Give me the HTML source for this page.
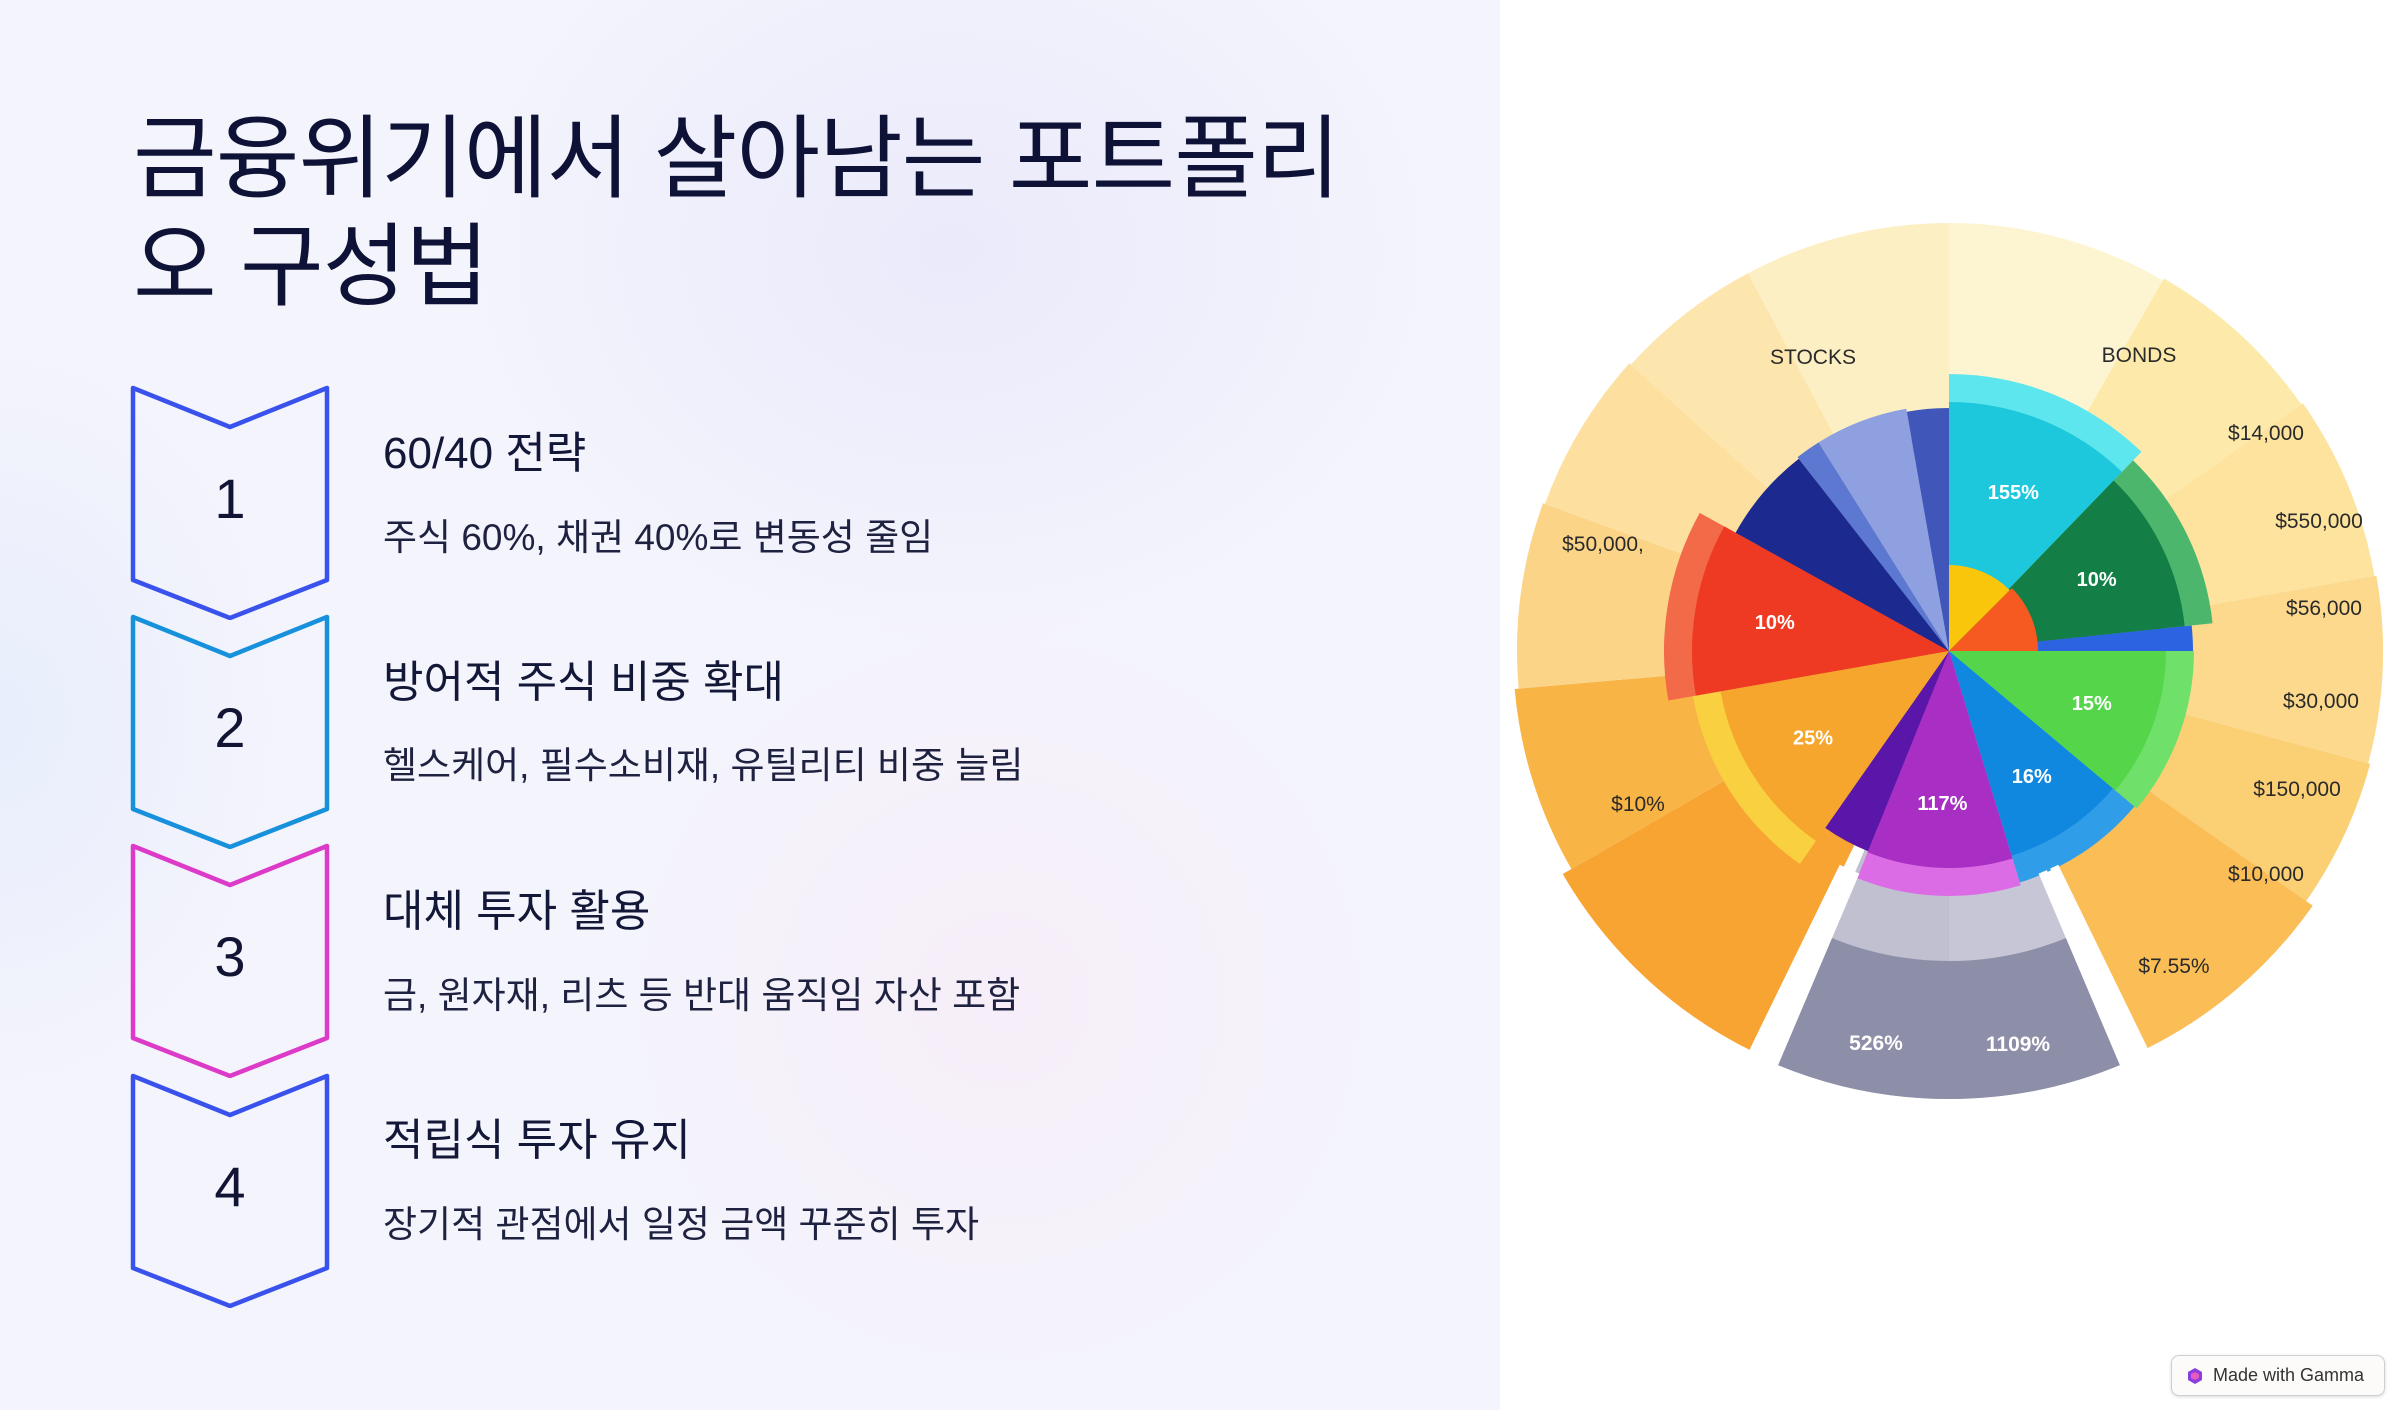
<!DOCTYPE html>
<html><head><meta charset="utf-8">
<style>
*{margin:0;padding:0;box-sizing:border-box}
body{width:2400px;height:1410px;overflow:hidden;font-family:"Liberation Sans","Noto Sans CJK KR",sans-serif;background:#fff;position:relative}
#left{position:absolute;left:0;top:0;width:1500px;height:1410px;background:radial-gradient(ellipse 500px 400px at 950px 250px,#eaeafb,rgba(240,240,252,0) 100%),radial-gradient(ellipse 400px 400px at 1000px 1000px,#f6eef8,rgba(245,245,252,0) 100%),radial-gradient(ellipse 300px 400px at 0px 720px,#e8eefc,rgba(245,245,252,0) 100%),#f4f4fc}
h1{position:absolute;left:133px;top:106px;width:1250px;font-size:91px;line-height:108px;font-weight:400;color:#0e1236;letter-spacing:-1px}
.chev{position:absolute;left:130px;width:200px;height:235px}
.num{position:absolute;left:130px;width:200px;text-align:center;font-size:56px;color:#111533}
.hd{position:absolute;left:383px;font-size:44px;color:#141838}
.sub{position:absolute;left:383px;font-size:37px;color:#1e2240}
#right{position:absolute;left:1500px;top:0;width:900px;height:1410px;background:#fff}
#badge{position:absolute;left:2171px;top:1355px;width:214px;height:41px;border:1.5px solid #cfcfcf;border-radius:8px;background:#fcfbfa;font-size:18px;color:#333;display:flex;align-items:center;padding-left:14px;gap:9px;box-shadow:0 1px 3px rgba(0,0,0,.15)}
</style></head><body>
<div id="left"></div>
<h1>금융위기에서 살아남는 포트폴리오 구성법</h1>

<svg class="chev" style="top:385px" viewBox="0 0 200 235"><path d="M3,3 L100,42 L197,3 L197,195 L100,233 L3,195 Z" fill="none" stroke="#3a52ec" stroke-width="4.5" stroke-linejoin="round"/></svg>
<svg class="chev" style="top:614px" viewBox="0 0 200 235"><path d="M3,3 L100,42 L197,3 L197,195 L100,233 L3,195 Z" fill="none" stroke="#1791dc" stroke-width="4.5" stroke-linejoin="round"/></svg>
<svg class="chev" style="top:843px" viewBox="0 0 200 235"><path d="M3,3 L100,42 L197,3 L197,195 L100,233 L3,195 Z" fill="none" stroke="#dc3ac8" stroke-width="4.5" stroke-linejoin="round"/></svg>
<svg class="chev" style="top:1073px" viewBox="0 0 200 235"><path d="M3,3 L100,42 L197,3 L197,195 L100,233 L3,195 Z" fill="none" stroke="#3a52ec" stroke-width="4.5" stroke-linejoin="round"/></svg>

<div class="num" style="top:466px">1</div>
<div class="num" style="top:695px">2</div>
<div class="num" style="top:924px">3</div>
<div class="num" style="top:1154px">4</div>

<div class="hd" style="top:417px">60/40 전략</div>
<div class="sub" style="top:507px">주식 60%, 채권 40%로 변동성 줄임</div>
<div class="hd" style="top:646px">방어적 주식 비중 확대</div>
<div class="sub" style="top:735px">헬스케어, 필수소비재, 유틸리티 비중 늘림</div>
<div class="hd" style="top:875px">대체 투자 활용</div>
<div class="sub" style="top:965px">금, 원자재, 리츠 등 반대 움직임 자산 포함</div>
<div class="hd" style="top:1104px">적립식 투자 유지</div>
<div class="sub" style="top:1194px">장기적 관점에서 일정 금액 꾸준히 투자</div>

<div id="right"></div>
<svg id="chart" width="2400" height="1410" style="position:absolute;left:0;top:0"></svg>

<div id="badge"><svg width="18" height="18" viewBox="0 0 18 18"><path d="M9,1 L16,5 L16,13 L9,17 L2,13 L2,5 Z" fill="#8a3ee0"/><path d="M9,5 L13,7 L13,11 L9,13 L5,11 L5,7Z" fill="#e85ac0"/></svg>Made with Gamma</div>

<script>
// outer ring segments: start/end angle (deg clockwise from top), colour
const ringStart = [0, 30, 55, 80, 105, 125, 157, 180, 206, 240, 265, 290, 312, 332];
const ringEnd   = [30, 55, 80, 105, 125, 154, 180, 203, 240, 265, 290, 312, 332, 360];
const ringColor = ['#fdf5d2','#fde9aa','#fde39e','#fcd98c','#fbcf74','#fbbd55','#c6c6d6','#c0c0d0','#f8a432','#f9b446','#fbd487','#fde0a0','#fde6ae','#fdefc4'];
const ringOuter = [428, 430, 432, 434, 436, 444, 448, 448, 446, 436, 432, 430, 428, 428];
// pie slices
const pieStart = [0, 44, 84, 90, 130, 163, 202, 215, 260, 299, 322, 328, 350];
const pieEnd   = [44, 84, 90, 130, 163, 202, 215, 260, 299, 322, 328, 350, 360];
const pieRad   = [277, 265, 244, 245, 242, 245, 216, 260, 285, 244, 246, 246, 243];
const pieColor = ['#5ee6ee','#4cb66c','#2b63e0','#6fe06a','#2f9de8','#dc6ce6','#5a16a8','#f9d040','#f26a48','#1c2a90','#5c78d0','#8ea0e0','#4056b8'];
const pieInner = ['#1ec8dc','#137f46','#2b63e0','#55d64a','#1088e0','#a82ec4','#5a16a8','#f6a62c','#ee3a22','#1c2a90','#5c78d0','#8ea0e0','#4056b8'];
const pieLabel = ['155%','10%','','15%','16%','117%','','25%','10%','','','',''];
// centre wedges
const coreStart = [0, 45];
const coreEnd = [45, 90];
const coreRad = [86, 89];
const coreColor = ['#fac60c','#f65a20'];
// annotation labels
const annText = ['STOCKS','BONDS','$14,000','$550,000','$56,000','$30,000','$150,000','$10,000','$7.55%','$50,000,','$10%','526%','1109%'];
const annX = [1813,2139,2266,2319,2324,2321,2297,2266,2174,1603,1638,1876,2018];
const annY = [357,355,433,521,608,701,789,874,966,544,804,1043,1044];

const NS='http://www.w3.org/2000/svg';
const svg=document.getElementById('chart');
const cx=1949, cy=651;
function pt(a,r){const t=a*Math.PI/180;return [cx+r*Math.sin(t),cy-r*Math.cos(t)];}
function arc(a0,a1,r0,r1){
  const p0=pt(a0,r1),p1=pt(a1,r1),large=(a1-a0)>180?1:0;
  if(r0<=0)return `M${cx},${cy}L${p0[0]},${p0[1]}A${r1},${r1} 0 ${large} 1 ${p1[0]},${p1[1]}Z`;
  const q0=pt(a1,r0),q1=pt(a0,r0);
  return `M${p0[0]},${p0[1]}A${r1},${r1} 0 ${large} 1 ${p1[0]},${p1[1]}L${q0[0]},${q0[1]}A${r0},${r0} 0 ${large} 0 ${q1[0]},${q1[1]}Z`;
}
function mk(tag,attrs){const e=document.createElementNS(NS,tag);for(const k in attrs)e.setAttribute(k,attrs[k]);svg.appendChild(e);return e;}
for(let i=0;i<ringStart.length;i++){
  const p=mk('path',{d:arc(ringStart[i],ringEnd[i],0,ringOuter[i]),fill:ringColor[i]});
  
  
  if(i===6||i===7){
    const d=mk('path',{d:arc(ringStart[i],ringEnd[i],310,ringOuter[i]),fill:'#8d8ea8'});
    
    
  }
}
for(let i=0;i<pieStart.length;i++){
  const p=mk('path',{d:arc(pieStart[i],pieEnd[i],0,pieRad[i]),fill:pieColor[i]});
  
  
  const q=mk('path',{d:arc(pieStart[i],pieEnd[i],0,pieRad[i]-28),fill:pieInner[i]});
  
  
  if(pieLabel[i]){
    const m=(pieStart[i]+pieEnd[i])/2,c=pt(m,pieRad[i]*0.62);
    const t=mk('text',{x:c[0],y:c[1]+7,'text-anchor':'middle','font-size':20,'font-weight':'bold',fill:'#fff','font-family':'Liberation Sans, sans-serif'});
    t.textContent=pieLabel[i];
    
    
  }
}
for(let i=0;i<coreStart.length;i++){
  const p=mk('path',{d:arc(coreStart[i],coreEnd[i],0,coreRad[i]),fill:coreColor[i]});
  
  
}
// white gaps
[154,157,203,206].forEach(a=>{const a0=pt(a,240),a1=pt(a,460);
  const l=mk('line',{x1:a0[0],y1:a0[1],x2:a1[0],y2:a1[1],stroke:'#fff','stroke-width':9});
  
  });
for(let i=0;i<annText.length;i++){
  const t=mk('text',{x:annX[i],y:annY[i]+7,'text-anchor':'middle','font-size':21,fill:i>=11?'#fff':'#2a2a2a','font-family':'Liberation Sans, sans-serif','font-weight':i>=11?'bold':'normal'});
  t.textContent=annText[i];
  
  
}
</script>
</body></html>
